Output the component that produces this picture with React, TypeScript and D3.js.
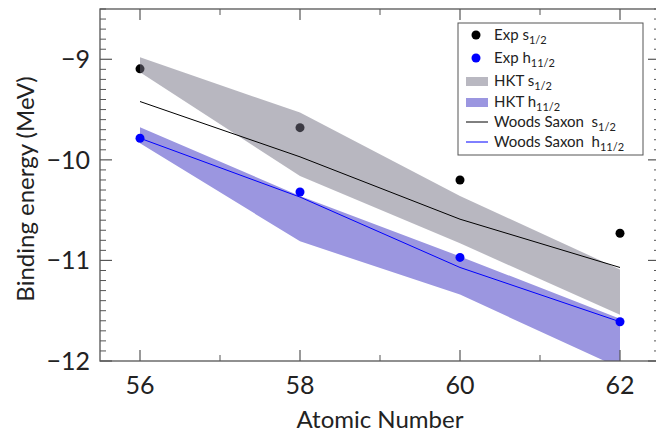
import React from 'react';
import * as d3 from 'd3';

// atomic numbers on the x axis
const atomicNumber = [56, 58, 60, 62];

// experimental binding energies (MeV)
const expS = [-9.095, -9.68, -10.2, -10.73];
const expH = [-9.785, -10.32, -10.97, -11.61];

// HKT bands (upper / lower edge)
const hktSUpper = [-8.98, -9.53, -10.36, -11.09];
const hktSLower = [-9.13, -10.16, -10.83, -11.54];
const hktHUpper = [-9.675, -10.36, -10.96, -11.58];
const hktHLower = [-9.835, -10.81, -11.34, -12.07];

// Woods Saxon curves
const wsS = [-9.42, -9.97, -10.59, -11.07];
const wsH = [-9.785, -10.37, -11.07, -11.61];

const FONT = "Lato, 'Open Sans', sans-serif";
const FRAME = '#555';

const Sub = ({ children }: { children: string }) => (
  <tspan fontSize="11" dy="4">{children}</tspan>
);

export default function App() {
  const width = 656, height = 434;
  const left = 100, right = 660, top = 9, bottom = 361;

  const x = d3.scaleLinear().domain([55.5, 62.5]).range([left, right]);
  const y = d3.scaleLinear().domain([-12, -8.5]).range([bottom, top]);

  const band = (hi: number[], lo: number[]) =>
    d3.area<number>()
      .x(d => x(d))
      .y0((d, i) => y(lo[i]))
      .y1((d, i) => y(hi[i]))(atomicNumber) || '';

  const line = (vals: number[]) =>
    d3.line<number>()
      .x(d => x(d))
      .y((d, i) => y(vals[i]))(atomicNumber) || '';

  const yMajor = y.ticks(4);
  const yMinor = y.ticks(35).filter(v => !yMajor.some(m => Math.abs(m - v) < 1e-6));
  const xAll = d3.range(56, 63);
  const xMajor = xAll.filter(v => v % 2 === 0);
  const xMinor = xAll.filter(v => v % 2 !== 0);

  const legendRows = [
    { kind: 'dot', color: '#000', label: 'Exp s', sub: '1/2', y: 35 },
    { kind: 'dot', color: '#0000ff', label: 'Exp h', sub: '11/2', y: 58 },
    { kind: 'rect', color: '#b9b8c1', label: 'HKT s', sub: '1/2', y: 81 },
    { kind: 'rect', color: '#9b96e0', label: 'HKT h', sub: '11/2', y: 102 },
    { kind: 'line', color: '#000', label: 'Woods Saxon  s', sub: '1/2', y: 122 },
    { kind: 'line', color: '#0000ff', label: 'Woods Saxon  h', sub: '11/2', y: 142 },
  ];

  return (
    <div style={{ position: 'absolute', left: 0, top: 0 }}>
      <svg width={width} height={height} style={{ display: 'block', fontFamily: FONT }}>
        <defs>
          <clipPath id="plot">
            <rect x={left} y={top} width={right - left} height={bottom - top} />
          </clipPath>
        </defs>
        <rect width={width} height={height} fill="#fff" />

        <g clipPath="url(#plot)">
          {atomicNumber.map((z, i) => (
            <circle key={'s' + z} cx={x(z)} cy={y(expS[i])} r={4.5} fill="#000" />
          ))}
          <path d={band(hktSUpper, hktSLower)} fill="rgb(115,114,131)" fillOpacity={0.51} />
          <path d={band(hktHUpper, hktHLower)} fill="#9b96e0" />
          <path d={line(wsH)} fill="none" stroke="#0000ff" strokeWidth={1} />
          <path d={line(wsS)} fill="none" stroke="#000" strokeWidth={1} />
          {atomicNumber.map((z, i) => (
            <circle key={'h' + z} cx={x(z)} cy={y(expH[i])} r={4.5} fill="#0000ff" />
          ))}
        </g>

        {/* frame */}
        <rect x={left} y={top} width={right - left} height={bottom - top} fill="none" stroke={FRAME} strokeWidth={1.3} />

        {/* y ticks, left and right */}
        {yMajor.map(v => (
          <g key={'ym' + v} stroke={FRAME} strokeWidth={1.2}>
            <line x1={left} x2={left + 12} y1={y(v)} y2={y(v)} />
            <line x1={right} x2={right - 12} y1={y(v)} y2={y(v)} />
          </g>
        ))}
        {yMinor.map(v => (
          <g key={'yn' + v} stroke={FRAME} strokeWidth={1}>
            <line x1={left} x2={left + 6} y1={y(v)} y2={y(v)} />
            <line x1={right} x2={right - 6} y1={y(v)} y2={y(v)} />
          </g>
        ))}
        {/* x ticks, bottom and top */}
        {xMajor.map(v => (
          <g key={'xm' + v} stroke={FRAME} strokeWidth={1.2}>
            <line x1={x(v)} x2={x(v)} y1={bottom} y2={bottom - 11} />
            <line x1={x(v)} x2={x(v)} y1={top} y2={top + 11} />
          </g>
        ))}
        {xMinor.map(v => (
          <g key={'xn' + v} stroke={FRAME} strokeWidth={1}>
            <line x1={x(v)} x2={x(v)} y1={bottom} y2={bottom - 6} />
            <line x1={x(v)} x2={x(v)} y1={top} y2={top + 6} />
          </g>
        ))}

        {/* tick labels */}
        {yMajor.map(v => (
          <text key={'yl' + v} x={90} y={y(v)} dy="0.36em" textAnchor="end" fontSize={25} fill="#222">
            {'\u2212' + Math.abs(v)}
          </text>
        ))}
        {xMajor.map(v => (
          <text key={'xl' + v} x={x(v)} y={394} textAnchor="middle" fontSize={25} fill="#222">
            {v}
          </text>
        ))}

        {/* axis titles */}
        <text x={x(59)} y={428} textAnchor="middle" fontSize={24} fill="#222">Atomic Number</text>
        <text transform={`translate(34,${(top + bottom) / 2 + 4}) rotate(-90)`} textAnchor="middle" fontSize={24} fill="#222">
          Binding energy (MeV)
        </text>

        {/* legend */}
        <rect x={458} y={23} width={185} height={132} fill="#fff" stroke={FRAME} strokeWidth={1} />
        {legendRows.map(r => (
          <g key={r.label + r.sub}>
            {r.kind === 'dot' && <circle cx={476} cy={r.y} r={4.5} fill={r.color} />}
            {r.kind === 'rect' && <rect x={466} y={r.y - 4} width={22} height={9} fill={r.color} />}
            {r.kind === 'line' && <line x1={466} x2={488} y1={r.y} y2={r.y} stroke={r.color} strokeWidth={1} />}
            <text x={494} y={r.y + 5} fontSize={15} fill="#222" style={{ whiteSpace: 'pre' }}>
              {r.label}
              <Sub>{r.sub}</Sub>
            </text>
          </g>
        ))}
      </svg>
    </div>
  );
}
